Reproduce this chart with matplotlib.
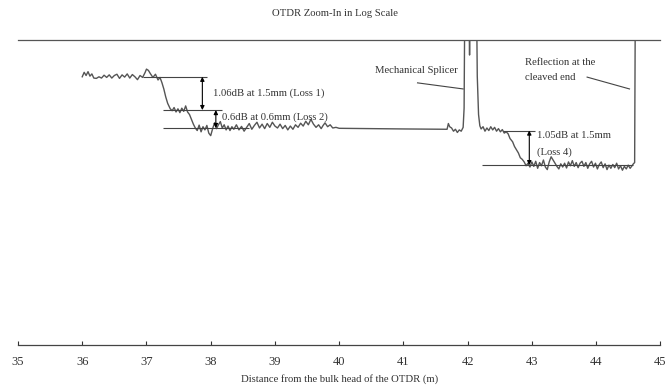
import matplotlib
matplotlib.use("Agg")
import matplotlib.pyplot as plt
import numpy as np

plt.rcParams['font.family'] = ['Liberation Serif', 'DejaVu Serif']

# OTDR trace, distance (m) and relative level (dB)
dist = [36.00, 36.03, 36.06, 36.09, 36.12, 36.15, 36.18, 36.22, 36.26, 36.30,
        36.34, 36.38, 36.42, 36.46, 36.50, 36.54, 36.58, 36.62, 36.66, 36.70,
        36.74, 36.78, 36.82, 36.86, 36.90, 36.94, 36.98, 37.00, 37.03, 37.06,
        37.10, 37.14, 37.18, 37.21, 37.24, 37.27, 37.30, 37.33, 37.37, 37.40,
        37.43, 37.46, 37.49, 37.52, 37.55, 37.58, 37.61, 37.64, 37.67, 37.70,
        37.73, 37.76, 37.79, 37.82, 37.85, 37.88, 37.91, 37.94, 37.97, 38.00,
        38.03, 38.06, 38.09, 38.12, 38.15, 38.18, 38.21, 38.24, 38.27, 38.30,
        38.33, 38.36, 38.40, 38.44, 38.48, 38.52, 38.56, 38.60, 38.64, 38.68,
        38.72, 38.76, 38.80, 38.84, 38.88, 38.92, 38.96, 39.00, 39.04, 39.08,
        39.12, 39.16, 39.20, 39.24, 39.28, 39.32, 39.36, 39.40, 39.44, 39.48,
        39.52, 39.56, 39.60, 39.64, 39.68, 39.72, 39.75, 39.78, 39.82, 39.86,
        39.90, 39.95, 40.00, 41.00, 41.68, 41.70, 41.72, 41.75, 41.78, 41.81,
        41.84, 41.87, 41.90, 41.93, 41.945, 41.955, 42.02, 42.03, 42.04, 42.14,
        42.15, 42.17, 42.19, 42.21, 42.24, 42.27, 42.30, 42.33, 42.36, 42.39,
        42.42, 42.45, 42.48, 42.51, 42.54, 42.57, 42.60, 42.63, 42.66, 42.70,
        42.73, 42.76, 42.79, 42.82, 42.85, 42.88, 42.91, 42.94, 42.97, 43.00,
        43.03, 43.06, 43.09, 43.12, 43.15, 43.18, 43.21, 43.24, 43.27, 43.30,
        43.33, 43.36, 43.39, 43.42, 43.45, 43.48, 43.51, 43.54, 43.57, 43.60,
        43.63, 43.66, 43.69, 43.72, 43.75, 43.78, 43.81, 43.84, 43.87, 43.90,
        43.93, 43.96, 43.99, 44.02, 44.05, 44.08, 44.11, 44.14, 44.17, 44.20,
        44.23, 44.26, 44.29, 44.32, 44.35, 44.38, 44.41, 44.44, 44.47, 44.50,
        44.53, 44.56, 44.58, 44.60, 44.61]
level = [8.38, 8.52, 8.42, 8.54, 8.40, 8.47, 8.34, 8.33, 8.38, 8.34,
         8.43, 8.36, 8.44, 8.34, 8.42, 8.46, 8.33, 8.44, 8.37, 8.47,
         8.34, 8.45, 8.38, 8.29, 8.42, 8.36, 8.52, 8.62, 8.58, 8.48,
         8.36, 8.46, 8.28, 8.36, 8.20, 8.00, 7.75, 7.55, 7.38, 7.32,
         7.42, 7.28, 7.38, 7.26, 7.40, 7.30, 7.47, 7.28, 7.20, 7.05,
         6.90, 6.78, 6.70, 6.87, 6.66, 6.82, 6.72, 6.86, 6.62, 6.54,
         6.76, 6.94, 6.76, 6.88, 6.98, 6.78, 6.88, 6.72, 6.84, 6.70,
         6.82, 6.74, 6.88, 6.72, 6.83, 6.68, 6.80, 6.92, 6.74, 6.86,
         6.96, 6.78, 6.90, 6.76, 6.92, 6.80, 6.96, 6.84, 6.78, 6.90,
         6.76, 6.86, 6.72, 6.84, 6.74, 6.88, 6.80, 6.93, 6.84, 6.99,
         6.88, 7.05, 6.90, 6.80, 6.88, 6.76, 6.86, 6.94, 6.82, 6.88,
         6.78, 6.80, 6.77, 6.75, 6.74, 6.92, 6.82, 6.78, 6.68, 6.74,
         6.64, 6.72, 6.68, 6.80, 7.40, 10.5, 10.5, 9.06, 10.5, 10.5,
         8.40, 7.20, 6.85, 6.75, 6.82, 6.68, 6.78, 6.70, 6.82, 6.72,
         6.80, 6.68, 6.76, 6.66, 6.73, 6.62, 6.66, 6.60, 6.45, 6.35,
         6.20, 6.10, 6.00, 5.85, 5.80, 5.72, 5.60, 5.68, 5.56, 5.72,
         5.58, 5.74, 5.52, 5.70, 5.60, 5.78, 5.56, 5.48, 5.72, 5.88,
         5.78, 5.68, 5.58, 5.50, 5.66, 5.56, 5.68, 5.53, 5.72, 5.60,
         5.76, 5.58, 5.70, 5.54, 5.68, 5.74, 5.58, 5.70, 5.52, 5.66,
         5.74, 5.56, 5.68, 5.50, 5.64, 5.72, 5.54, 5.66, 5.48, 5.62,
         5.52, 5.64, 5.54, 5.68, 5.50, 5.60, 5.46, 5.58, 5.50, 5.62,
         5.52, 5.60, 5.66, 5.70, 10.5]

# loss step levels (dB)
loss1_top, loss1_bot = 8.38, 7.34
loss2_bot = 6.78
loss4_top, loss4_bot = 6.70, 5.62

xticks = [35, 36, 37, 38, 39, 40, 41, 42, 43, 44, 45]

fig = plt.figure(figsize=(6.67, 3.92), dpi=100)
ax = fig.add_axes([0.027, 0.12, 0.963, 0.778])

ax.plot(dist, level, color='#555555', lw=1.0)

lc = '#444444'
# reference lines for the loss steps
ax.hlines(loss1_top, 36.95, 37.95, color=lc, lw=0.8)
ax.hlines(loss1_bot, 37.26, 38.18, color=lc, lw=0.8)
ax.hlines(loss2_bot, 37.26, 38.60, color=lc, lw=0.8)
ax.hlines(loss4_top, 42.55, 43.05, color=lc, lw=0.8)
ax.hlines(loss4_bot, 42.23, 44.58, color=lc, lw=0.8)

ap = dict(arrowstyle='<|-|>', color='black', lw=0.8, mutation_scale=6,
          shrinkA=0, shrinkB=0)
ax.annotate('', xy=(37.87, loss1_top), xytext=(37.87, loss1_bot), arrowprops=ap)
ax.annotate('', xy=(38.08, loss1_bot), xytext=(38.08, loss2_bot), arrowprops=ap)
ax.annotate('', xy=(42.96, loss4_top), xytext=(42.96, loss4_bot), arrowprops=ap)

fs = 7.7
tc = '#333333'
ax.text(38.03, 7.87, '1.06dB at 1.5mm (Loss 1)', fontsize=fs, va='center', color=tc)
ax.text(38.18, 7.12, '0.6dB at 0.6mm (Loss 2)', fontsize=fs, va='center', color=tc)
ax.text(43.08, 6.53, '1.05dB at 1.5mm', fontsize=fs, va='center', color=tc)
ax.text(43.08, 6.02, '(Loss 4)', fontsize=fs, va='center', color=tc)
ax.text(41.20, 8.59, 'Mechanical Splicer', fontsize=fs, va='center', ha='center', color=tc)
ax.plot([41.22, 41.93], [8.19, 8.00], color=lc, lw=0.8)
ax.text(42.90, 8.84, 'Reflection at the', fontsize=fs, va='center', color=tc)
ax.text(42.90, 8.37, 'cleaved end', fontsize=fs, va='center', color=tc)
ax.plot([43.86, 44.52], [8.37, 8.00], color=lc, lw=0.8)

ax.set_xlim(35, 45)
ax.set_ylim(0, 9.53)
ax.set_xticks(xticks)
ax.set_xticklabels([str(t) for t in xticks], fontsize=9)
ax.set_yticks([])
ax.tick_params(axis='x', direction='in', length=3, width=0.8, pad=8, colors='#333333')
for s in ['left', 'right']:
    ax.spines[s].set_visible(False)
ax.spines['top'].set_color('#555555')
ax.spines['bottom'].set_color('#444444')
ax.spines['top'].set_linewidth(0.9)
ax.spines['bottom'].set_linewidth(0.9)

ax.set_xlabel('Distance from the bulk head of the OTDR (m)', fontsize=7.7, labelpad=4, color=tc)
fig.text(0.502, 0.965, 'OTDR Zoom-In in Log Scale', fontsize=7.7, ha='center', va='center', color=tc)

fig.savefig('out.png', dpi=100)
